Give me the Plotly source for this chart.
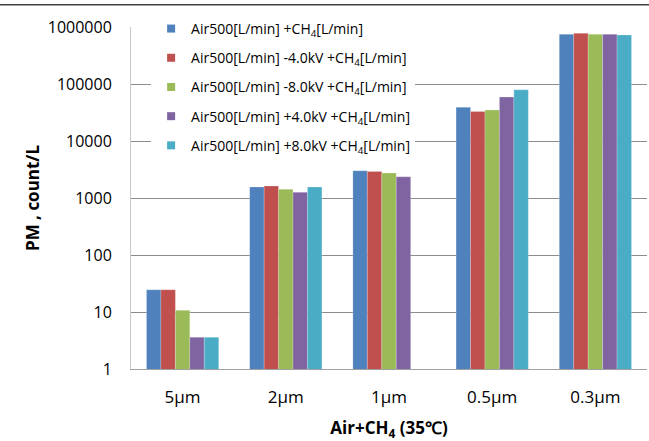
import plotly.graph_objects as go

categories = ["5µm", "2µm", "1µm", "0.5µm", "0.3µm"]
series_names = [
    "Air500[L/min] +CH<sub>4</sub>[L/min]",
    "Air500[L/min] -4.0kV +CH<sub>4</sub>[L/min]",
    "Air500[L/min] -8.0kV +CH<sub>4</sub>[L/min]",
    "Air500[L/min] +4.0kV +CH<sub>4</sub>[L/min]",
    "Air500[L/min] +8.0kV +CH<sub>4</sub>[L/min]",
]
base = [24.5, 1560, 3010, 39000, 745000]
neg4 = [24.5, 1620, 2930, 33000, 775000]
neg8 = [10.7, 1420, 2750, 35000, 745000]
pos4 = [3.6, 1260, 2360, 59000, 745000]
pos8 = [3.6, 1560, None, 79000, 725000]
series_values = [base, neg4, neg8, pos4, pos8]
colors = ["#4F81BD", "#C0504D", "#9BBB59", "#8064A2", "#4BACC6"]
y_tickvals = [1, 10, 100, 1000, 10000, 100000, 1000000]
y_ticktext = ["1", "10", "100", "1000", "10000", "100000", "1000000"]

fig = go.Figure()
for i, (name, vals, col) in enumerate(zip(series_names, series_values, colors)):
    fig.add_trace(go.Bar(
        x=categories, y=vals, name=name, marker_color=col,
        marker_line=dict(color="rgba(255,255,255,0.35)", width=0.6),
        showlegend=False,
    ))
    fig.add_trace(go.Scatter(
        x=[None], y=[None], mode="markers", name=name,
        marker=dict(symbol="square", size=8, color=col),
        legendgroup=f"g{i}", showlegend=True,
    ))

FONT = "Open Sans"
fig.update_layout(
    width=649, height=441,
    margin=dict(l=131, r=2, t=27, b=72),
    paper_bgcolor="white", plot_bgcolor="white",
    barmode="group", bargap=0.30, bargroupgap=0,
    font=dict(family=FONT, color="#000000"),
    legend=dict(
        x=0.039, y=1.041, xanchor="left", yanchor="top",
        bgcolor="white", borderwidth=0,
        font=dict(family=FONT, size=14, color="#000000"),
        tracegroupgap=8, itemwidth=30,
    ),
    xaxis=dict(
        showline=True, linecolor="#A0A0A0", linewidth=1,
        showgrid=False, ticks="", automargin=False,
        tickfont=dict(family=FONT, size=17, color="#000000"),
        ticklabelstandoff=13,
        title=dict(text="<b>Air+CH<sub>4</sub> (35℃)</b>",
                   font=dict(family=FONT, size=17, color="#000000"), standoff=24),
    ),
    yaxis=dict(
        type="log", range=[0, 6], automargin=False,
        tickvals=y_tickvals, ticktext=y_ticktext,
        showline=True, linecolor="#C8C8C8", linewidth=1,
        showgrid=True, gridcolor="#8C8C8C", gridwidth=1,
        ticks="", ticklabelstandoff=15,
        tickfont=dict(family=FONT, size=16, color="#000000"),
        title=dict(text="<b>PM , count/L</b>",
                   font=dict(family=FONT, size=17, color="#000000"), standoff=3),
    ),
)
fig.add_shape(type="line", xref="paper", yref="paper",
              x0=-131/516, x1=1 + 2/516, y0=1.065, y1=1.065,
              line=dict(color="#404040", width=1.5))

fig.write_html("out.html")
